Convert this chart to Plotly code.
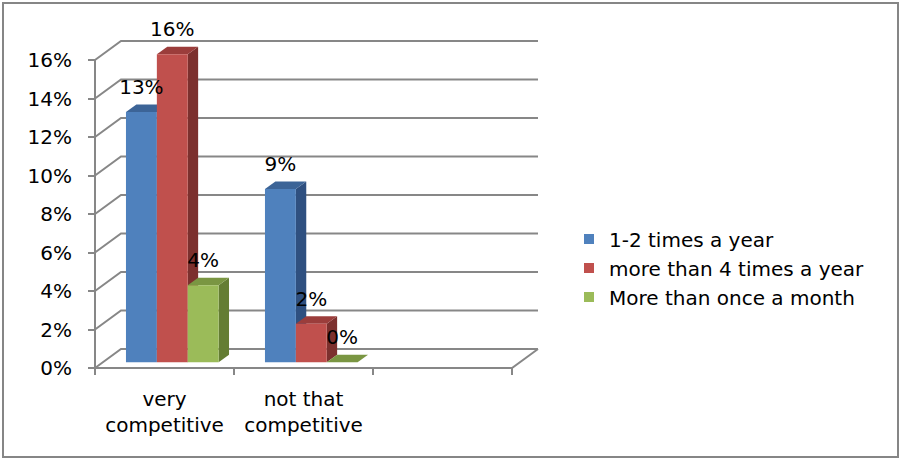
import plotly.graph_objects as go

# ---------------- data ----------------
categories = ["very<br>competitive", "not that<br>competitive", ""]
series_names = ["1-2 times a year", "more than 4 times a year", "More than once a month"]
series_values = {
    "1-2 times a year": [13, 9, None],
    "more than 4 times a year": [16, 2, None],
    "More than once a month": [4, 0, None],
}
y_ticks = [0, 2, 4, 6, 8, 10, 12, 14, 16]
y_tick_labels = [f"{v}%" for v in y_ticks]

# ---------------- styles ----------------
front_colors = ["#4F81BD", "#C0504D", "#9BBB59"]
top_colors = ["#3C6497", "#9B3D3B", "#7A9642"]
side_colors = ["#2F5080", "#7C302E", "#647D33"]
grid_color = "#878787"
FONT = "DejaVu Sans"
FS = 20

W, H = 901, 459
PXC = 139.0      # pixels per category
PXP = 19.25      # pixels per percent
ORX, ORY = 95, 368   # pixel position of front-left floor corner
DXu = 26 / PXC       # wall depth in x units
DYu = 19 / PXP       # wall depth in y units
GAP = 1.5            # gap width (fraction of bar width)
n_series = len(series_names)
bw = 1.0 / (n_series + GAP)
FRONT_T, DEPTH_T = 0.3, 0.4

# plot area in pixels
PL, PR, PT, PB = 90, 548, 30, 380
x_range = [-0.5 - (ORX - PL) / PXC, -0.5 + (PR - ORX) / PXC]
y_range = [-(PB - ORY) / PXP, (ORY - PT) / PXP]

fig = go.Figure()

x_left = -0.5
x_right = len(categories) - 0.5

def line_trace(xs, ys):
    fig.add_trace(go.Scatter(x=xs, y=ys, mode="lines",
                             line=dict(color=grid_color, width=2),
                             hoverinfo="skip", showlegend=False))

# back wall gridlines + left wall diagonals
gx, gy = [], []
for v in y_ticks:
    gx += [x_left, x_left + DXu, x_right + DXu, None]
    gy += [v, v + DYu, v + DYu, None]
line_trace(gx, gy)
# floor front edge + right edge + front vertical axis
line_trace([x_left, x_right, x_right + DXu], [0, 0, DYu])
line_trace([x_left, x_left], [0, y_ticks[-1]])
# category boundary ticks
tick_len = 7 / PXP
tx, ty = [], []
for k in range(len(categories) + 1):
    tx += [x_left + k, x_left + k, None]
    ty += [0, -tick_len, None]
line_trace(tx, ty)

# bars
sx, sy = FRONT_T * DXu, FRONT_T * DYu
ddx, ddy = DEPTH_T * DXu, DEPTH_T * DYu

def face(xs, ys, color):
    fig.add_trace(go.Scatter(x=xs, y=ys, mode="lines", fill="toself",
                             fillcolor=color, line=dict(width=0, color=color),
                             hoverinfo="skip", showlegend=False))

lab_x, lab_y, lab_t = [], [], []
for ci, cat in enumerate(categories):
    for si, name in enumerate(series_names):
        v = series_values[name][ci]
        if v is None:
            continue
        x0 = ci + sx + (si - n_series / 2) * bw
        x1 = x0 + bw
        b = sy
        t = sy + v
        # side
        face([x1, x1 + ddx, x1 + ddx, x1, x1], [b, b + ddy, t + ddy, t, b], side_colors[si])
        # top
        face([x0, x1, x1 + ddx, x0 + ddx, x0], [t, t, t + ddy, t + ddy, t], top_colors[si])
        # front
        if v > 0:
            face([x0, x1, x1, x0, x0], [b, b, t, t, b], front_colors[si])
        lab_x.append((x0 + x1) / 2)
        lab_y.append(t + 23 / PXP)
        lab_t.append(f"{v}%")

fig.add_trace(go.Scatter(x=lab_x, y=lab_y, text=lab_t, mode="text",
                         textposition="middle center",
                         textfont=dict(family=FONT, size=FS, color="black"),
                         cliponaxis=False, hoverinfo="skip", showlegend=False))

# legend entries
for si, name in enumerate(series_names):
    fig.add_trace(go.Scatter(x=[None], y=[None], mode="markers", name=name,
                             marker=dict(symbol="square", size=10, color=front_colors[si]),
                             showlegend=True))

fig.update_layout(
    width=W, height=H,
    margin=dict(l=0, r=0, t=0, b=0),
    paper_bgcolor="white", plot_bgcolor="rgba(0,0,0,0)",
    font=dict(family=FONT, size=FS, color="black"),
    xaxis=dict(domain=[PL / W, PR / W], range=x_range, anchor="free",
               position=(H - ORY) / H,
               tickvals=list(range(len(categories))), ticktext=categories,
               ticks="", showgrid=False, zeroline=False, showline=False,
               ticklabelstandoff=17,
               tickfont=dict(family=FONT, size=FS, color="black")),
    yaxis=dict(domain=[(H - PB) / H, (H - PT) / H], range=y_range, anchor="free",
               position=ORX / W,
               tickvals=y_ticks, ticktext=y_tick_labels,
               ticks="outside", ticklen=7, tickwidth=2, tickcolor=grid_color,
               ticklabelstandoff=12,
               showgrid=False, zeroline=False, showline=False,
               tickfont=dict(family=FONT, size=FS, color="black")),
    legend=dict(x=(609 - 40) / W, y=1 - 268 / H, xanchor="left", yanchor="middle",
                font=dict(family=FONT, size=FS, color="black"),
                bgcolor="rgba(0,0,0,0)", borderwidth=0, tracegroupgap=0),
    showlegend=True,
    shapes=[dict(type="rect", xref="paper", yref="paper",
                 x0=3 / W, x1=898 / W, y0=1 - 457 / H, y1=1 - 3 / H,
                 line=dict(color="#868686", width=2), fillcolor="rgba(0,0,0,0)")],
)

fig.write_html("out.html")
